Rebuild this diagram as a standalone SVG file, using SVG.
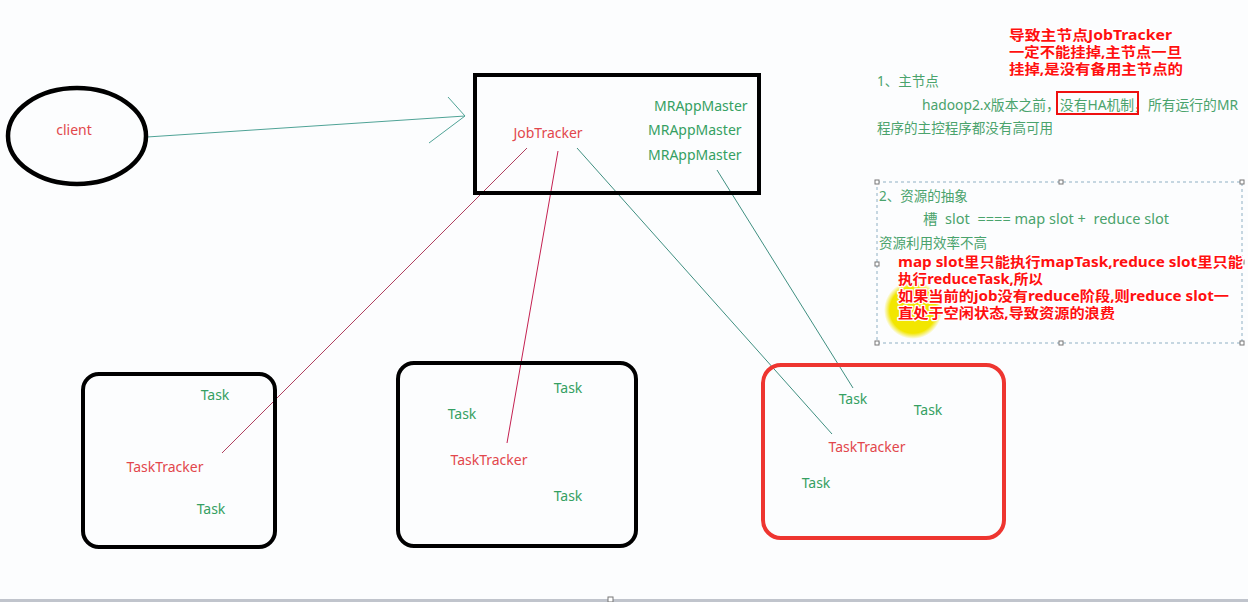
<svg xmlns="http://www.w3.org/2000/svg" width="1248" height="602" viewBox="0 0 1248 602">
<defs>
<style>
.lbl{font-family:"Noto Sans","Noto Sans CJK SC",sans-serif;font-size:14px}
.g{fill:#35a062}
.r{fill:#e2474c}
.note{font-family:"Noto Sans","Noto Sans CJK SC",sans-serif;font-size:13.5px;fill:#4aa36c}
.hot{font-family:"Noto Sans","Noto Sans CJK SC",sans-serif;font-size:14px;font-weight:bold;fill:#ff1010;stroke:#ffffff;stroke-width:2.5px;paint-order:stroke;stroke-linejoin:round}
.box{fill:none;stroke:#000;stroke-width:4}
.handle{fill:#fff;stroke:#777;stroke-width:1}
</style>
<radialGradient id="yel" cx="0.5" cy="0.5" r="0.5">
<stop offset="0" stop-color="#f2e600"/>
<stop offset="0.8" stop-color="#f2e600"/>
<stop offset="1" stop-color="#f2e600" stop-opacity="0"/>
</radialGradient>
</defs>
<rect width="1248" height="602" fill="#fcfdfe"/>
<rect x="0" y="599" width="1248" height="3" fill="#c0c4cc"/>
<rect x="608" y="597" width="5" height="5" class="handle"/>

<g id="connectors" fill="none" stroke-width="1">
<path d="M147,137 L465,116" stroke="#4fa396"/>
<path d="M448,97 L465,116 L429,143" stroke="#4fa396"/>
<path d="M527,148 L222,453" stroke="#b0405f"/>
<path d="M558,151 L507,443" stroke="#c42050"/>
<path d="M577,148 L832,434" stroke="#3f8f80"/>
<path d="M717,170 L853,388" stroke="#3f8f80"/>
</g>

<g id="client">
<ellipse cx="77" cy="136" rx="69" ry="48" fill="none" stroke="#000" stroke-width="4.5"/>
<text x="74" y="135" class="lbl r" text-anchor="middle">client</text>
</g>

<g id="jobtracker">
<rect x="475" y="75" width="284" height="118" class="box"/>
<text x="548" y="138" class="lbl r" text-anchor="middle">JobTracker</text>
<text x="654" y="111" class="lbl g">MRAppMaster</text>
<text x="648" y="135" class="lbl g">MRAppMaster</text>
<text x="648" y="160" class="lbl g">MRAppMaster</text>
</g>

<g id="tasktracker1">
<rect x="83" y="374" width="192" height="173" rx="16" class="box"/>
<text x="215" y="400" class="lbl g" text-anchor="middle">Task</text>
<text x="165" y="472" class="lbl r" text-anchor="middle">TaskTracker</text>
<text x="211" y="514" class="lbl g" text-anchor="middle">Task</text>
</g>

<g id="tasktracker2">
<rect x="398" y="363" width="238" height="183" rx="16" class="box"/>
<text x="568" y="393" class="lbl g" text-anchor="middle">Task</text>
<text x="462" y="419" class="lbl g" text-anchor="middle">Task</text>
<text x="489" y="465" class="lbl r" text-anchor="middle">TaskTracker</text>
<text x="568" y="501" class="lbl g" text-anchor="middle">Task</text>
</g>

<g id="tasktracker3">
<rect x="763" y="365" width="241" height="173" rx="18" fill="none" stroke="#ee3530" stroke-width="4"/>
<text x="853" y="404" class="lbl g" text-anchor="middle">Task</text>
<text x="928" y="415" class="lbl g" text-anchor="middle">Task</text>
<text x="867" y="452" class="lbl r" text-anchor="middle">TaskTracker</text>
<text x="816" y="488" class="lbl g" text-anchor="middle">Task</text>
</g>

<g id="note1">
<text x="1009" y="40" class="hot" textLength="163" lengthAdjust="spacingAndGlyphs">导致主节点JobTracker</text>
<text x="1009" y="57" class="hot" textLength="173" lengthAdjust="spacingAndGlyphs">一定不能挂掉,主节点一旦</text>
<text x="1009" y="74" class="hot" textLength="174" lengthAdjust="spacingAndGlyphs">挂掉,是没有备用主节点的</text>
<text x="877" y="86" class="note">1、主节点</text>
<text x="922" y="110" class="note" textLength="316" lengthAdjust="spacingAndGlyphs">hadoop2.x版本之前，没有HA机制，所有运行的MR</text>
<rect x="1057" y="92" width="81" height="22" fill="none" stroke="#ee1010" stroke-width="2"/>
<text x="877" y="133" class="note" textLength="176" lengthAdjust="spacingAndGlyphs">程序的主控程序都没有高可用</text>
</g>

<g id="note2">
<rect x="877" y="182" width="365" height="161" fill="none" stroke="#8fb0c4" stroke-width="1" stroke-dasharray="3,3"/>
<rect x="875" y="180" width="4" height="4" class="handle"/>
<rect x="1059" y="180" width="4" height="4" class="handle"/>
<rect x="1240" y="180" width="4" height="4" class="handle"/>
<rect x="875" y="262" width="4" height="4" class="handle"/>
<rect x="1240" y="260" width="4" height="4" class="handle"/>
<rect x="875" y="341" width="4" height="4" class="handle"/>
<rect x="1059" y="341" width="4" height="4" class="handle"/>
<rect x="1240" y="341" width="4" height="4" class="handle"/>
<circle cx="913" cy="310" r="29" fill="url(#yel)"/>
<text x="879" y="201" class="note">2、资源的抽象</text>
<text x="923" y="224" class="note" textLength="246" lengthAdjust="spacingAndGlyphs" xml:space="preserve">槽  slot  ==== map slot +  reduce slot</text>
<text x="879" y="248" class="note" textLength="108" lengthAdjust="spacingAndGlyphs">资源利用效率不高</text>
<text x="898" y="267" class="hot" textLength="345" lengthAdjust="spacingAndGlyphs">map slot里只能执行mapTask,reduce slot里只能</text>
<text x="898" y="284" class="hot" textLength="145" lengthAdjust="spacingAndGlyphs">执行reduceTask,所以</text>
<text x="898" y="301" class="hot" textLength="331" lengthAdjust="spacingAndGlyphs">如果当前的job没有reduce阶段,则reduce slot一</text>
<text x="898" y="318" class="hot" textLength="217" lengthAdjust="spacingAndGlyphs">直处于空闲状态,导致资源的浪费</text>
</g>
</svg>
